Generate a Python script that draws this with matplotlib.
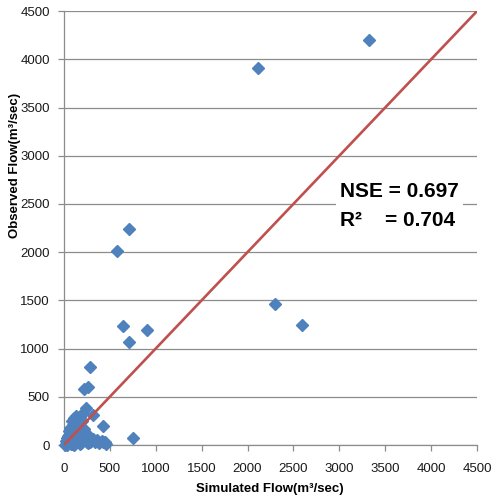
import matplotlib
matplotlib.use("Agg")
import matplotlib.pyplot as plt

# simulated vs observed flow (m3/sec)
sim_flow = [3320, 2110, 2295, 2590, 705, 578, 642, 902, 708,
            283, 222, 264, 239, 315, 424, 750, 446, 355,
            # dense cluster near origin
            10, 20, 30, 40, 50, 55, 60, 70, 75, 80, 90, 95, 100, 110, 115,
            120, 130, 135, 140, 150, 155, 160, 170, 175, 180, 190, 200, 210,
            215, 220, 230, 245, 260, 270, 285, 300, 320, 340, 360, 385, 410,
            430, 455, 120, 150, 90, 60, 30, 180, 140, 100, 200, 250]
obs_flow = [4205, 3912, 1462, 1244, 2240, 2015, 1236, 1193, 1068,
            809, 578, 605, 388, 311, 200, 73, 31, 45,
            5, 40, 0, 90, 20, 150, 60, 180, 10, 120, 250, 40, 210, 280, 0,
            160, 300, 90, 240, 270, 30, 200, 130, 60, 290, 20, 250, 330,
            80, 170, 50, 120, 20, 70, 30, 45, 60, 30, 55, 20, 40,
            30, 10, 60, 110, 15, 100, 70, 10, 200, 140, 90, 35]
line_x = [0, 4500]
line_y = [0, 4500]
ticks = list(range(0, 5000, 500))

stats_text = "NSE = 0.697\nR\u00b2    = 0.704"

plt.rcParams['font.family'] = ['Liberation Sans', 'DejaVu Sans']

fig = plt.figure(figsize=(4.99, 5.04), dpi=100)
ax = fig.add_axes([0.128, 0.117, 0.828, 0.861])

grid_col = '#8c8c8c'
ax.plot(sim_flow, obs_flow, linestyle='none', marker='D', ms=5.8,
        color='#4f81bd', mec='#4f81bd', clip_on=False, zorder=3)
ax.plot(line_x, line_y, color='#c0504d', lw=1.9, zorder=4)

ax.set_xlim(0, 4500)
ax.set_ylim(0, 4500)
ax.set_xticks(ticks)
ax.set_yticks(ticks)
ax.yaxis.grid(True, color=grid_col, lw=0.9)
ax.set_axisbelow(True)

for s in ['top', 'right']:
    ax.spines[s].set_visible(False)
for s in ['left', 'bottom']:
    ax.spines[s].set_color(grid_col)
    ax.spines[s].set_linewidth(0.9)

ax.tick_params(axis='both', direction='out', length=4, width=0.9,
               color=grid_col, labelsize=9.5, labelcolor='#1a1a1a')
ax.tick_params(axis='x', pad=9)
ax.tick_params(axis='y', pad=6)

ax.text(3005, 2480, stats_text, fontsize=15, fontweight='bold',
        va='center', ha='left', linespacing=1.65, zorder=5,
        bbox=dict(facecolor='white', edgecolor='none', pad=3))

fig.text(0.541, 0.018, "Simulated Flow(m\u00b3/sec)", ha='center', va='bottom',
         fontsize=9.5, fontweight='bold')
fig.text(0.03, 0.672, "Observed Flow(m\u00b3/sec)", ha='center', va='center',
         rotation=90, fontsize=9.5, fontweight='bold')

fig.savefig("out.png", dpi=100)
